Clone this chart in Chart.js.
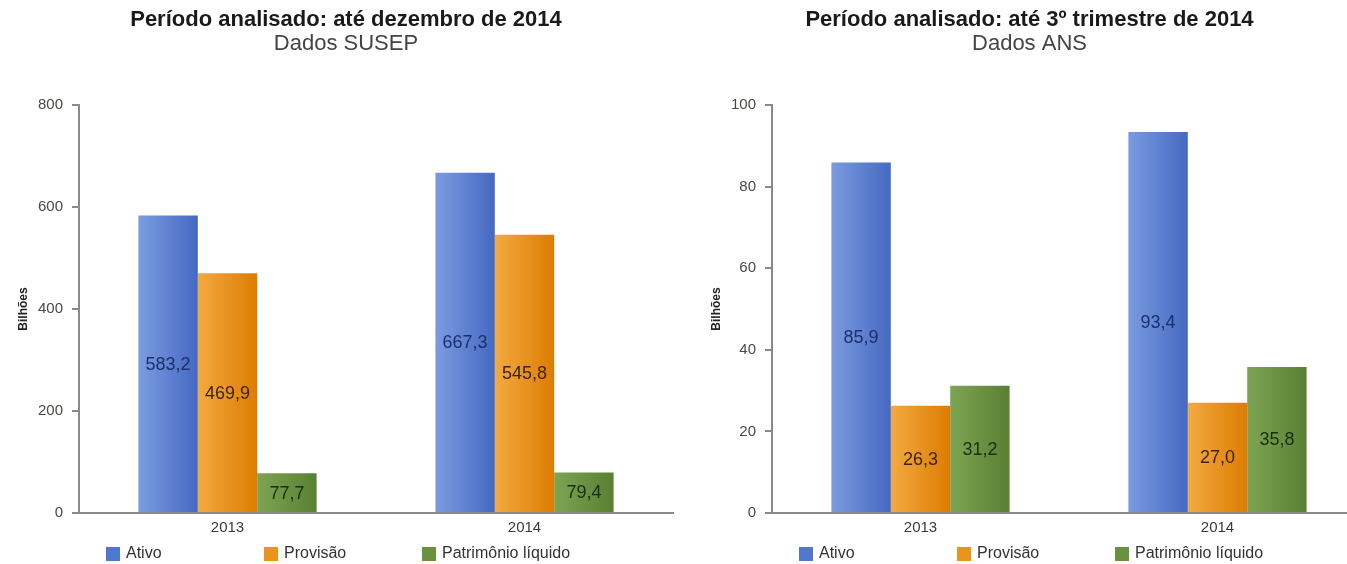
<!DOCTYPE html>
<html>
<head>
<meta charset="utf-8">
<script src="https://cdn.jsdelivr.net/npm/chart.js@4/dist/chart.umd.min.js"></script>
<style>
  html, body { margin: 0; padding: 0; background: #fff; overflow: hidden; width: 1347px; height: 564px; }
  .box { position: absolute; top: 0; height: 564px; }
</style>
</head>
<body>
<div class="box" style="left:0;width:692px"><canvas id="susepChart" width="692" height="564"></canvas></div>
<div class="box" style="left:693px;width:673px"><canvas id="ansChart" width="673" height="564"></canvas></div>
<script>
// data
const categories = ['2013', '2014']
const seriesNames = ['Ativo', 'Provisão', 'Patrimônio líquido']

const susepAtivo = [583.2, 667.3]
const susepProvisao = [469.9, 545.8]
const susepPatrimonio = [77.7, 79.4]
const susepTicks = [0, 200, 400, 600, 800]

const ansAtivo = [85.9, 93.4]
const ansProvisao = [26.3, 27.0]
const ansPatrimonio = [31.2, 35.8]
const ansTicks = [0, 20, 40, 60, 80, 100]

const FONT = 'Liberation Sans, Arial, sans-serif'
const palette = [
  { light: '#7b9be0', dark: '#4569c2', text: '#1c2f6e', legend: '#5077d0' },
  { light: '#f3aa40', dark: '#dd7c02', text: '#3d2400', legend: '#ec9419' },
  { light: '#7ca552', dark: '#5a7f33', text: '#17300a', legend: '#6a9140' },
]

function barFill(i) {
  return function (ctx) {
    const chart = ctx.chart
    const x = chart.scales.x
    if (ctx.type !== 'data' || !x || !chart.chartArea) return palette[i].dark
    const n = chart.data.datasets.length
    const group = (x.width / chart.data.labels.length) * 0.6
    const left = x.getPixelForValue(ctx.dataIndex) - group / 2 + (i * group) / n
    const g = chart.ctx.createLinearGradient(left, 0, left + group / n, 0)
    g.addColorStop(0, palette[i].light)
    g.addColorStop(1, palette[i].dark)
    return g
  }
}

// value labels in the middle of each bar
const valueLabels = {
  id: 'valueLabels',
  afterDatasetsDraw(chart) {
    const ctx = chart.ctx
    ctx.save()
    ctx.font = '18px ' + FONT
    ctx.textAlign = 'center'
    ctx.textBaseline = 'middle'
    chart.data.datasets.forEach((ds, i) => {
      chart.getDatasetMeta(i).data.forEach((el, j) => {
        ctx.fillStyle = palette[i].text
        ctx.fillText(ds.data[j].toFixed(1).replace('.', ','), el.x, (el.y + el.base) / 2 + 1)
      })
    })
    ctx.restore()
  },
}

// legend row under the axis
const bottomLegend = {
  id: 'bottomLegend',
  afterDraw(chart) {
    const ctx = chart.ctx
    const y = 554
    ctx.save()
    ctx.font = '16px ' + FONT
    ctx.textBaseline = 'middle'
    ctx.textAlign = 'left'
    chart.data.datasets.forEach((ds, i) => {
      const x = chart.chartArea.left + 27 + i * 158
      ctx.fillStyle = palette[i].legend
      ctx.fillRect(x, y - 7, 14, 14)
      ctx.fillStyle = '#333'
      ctx.fillText(ds.label, x + 20, y)
    })
    ctx.restore()
  },
}

function makeChart(id, title, subtitle, values, ticks, rightGap) {
  return new Chart(document.getElementById(id), {
    type: 'bar',
    data: {
      labels: categories,
      datasets: values.map((v, i) => ({
        label: seriesNames[i],
        data: v,
        backgroundColor: barFill(i),
        categoryPercentage: 0.6,
        barPercentage: 1.0,
      })),
    },
    options: {
      responsive: false,
      animation: false,
      layout: { padding: 0 },
      plugins: {
        legend: { display: false },
        tooltip: { enabled: false },
        title: {
          display: true,
          text: title,
          color: '#1a1a1a',
          font: { family: FONT, size: 22, weight: 'bold', lineHeight: 1.1 },
          padding: { top: 8, bottom: 0 },
        },
        subtitle: {
          display: true,
          text: subtitle,
          color: '#444',
          font: { family: FONT, size: 22, lineHeight: 1.1 },
          padding: { top: 0, bottom: 48.6 },
        },
      },
      scales: {
        x: {
          grid: { display: false, drawTicks: false },
          border: { display: true, color: '#8a8a8a', width: 2 },
          ticks: { color: '#3a3a3a', padding: 6, font: { family: FONT, size: 15 } },
          afterFit: (s) => { s.height = 51 },
        },
        y: {
          min: ticks[0],
          max: ticks[ticks.length - 1],
          ticks: {
            stepSize: ticks[1] - ticks[0],
            color: '#4a4a44',
            padding: 9,
            font: { family: FONT, size: 15 },
          },
          grid: { drawOnChartArea: false, drawTicks: true, tickLength: 7, color: '#8a8a8a', lineWidth: 2 },
          border: { display: true, color: '#8a8a8a', width: 2 },
          title: {
            display: true,
            text: 'Bilhões',
            color: '#222',
            font: { family: FONT, size: 12, weight: 'bold' },
            padding: { top: 16, bottom: 0 },
          },
          afterFit: (s) => { s.width = 79 },
        },
        // empty spacer on the right, keeps the title centred like the original
        gap: {
          type: 'linear',
          position: 'right',
          display: rightGap > 0,
          grid: { display: false, drawTicks: false },
          border: { display: false },
          ticks: { display: false },
          afterFit: (s) => { s.width = rightGap },
        },
      },
    },
    plugins: [valueLabels, bottomLegend],
  })
}

makeChart('susepChart', 'Período analisado: até dezembro de 2014', 'Dados SUSEP',
  [susepAtivo, susepProvisao, susepPatrimonio], susepTicks, 19)
makeChart('ansChart', 'Período analisado: até 3º trimestre de 2014', 'Dados ANS',
  [ansAtivo, ansProvisao, ansPatrimonio], ansTicks, 0)
</script>
</body>
</html>
